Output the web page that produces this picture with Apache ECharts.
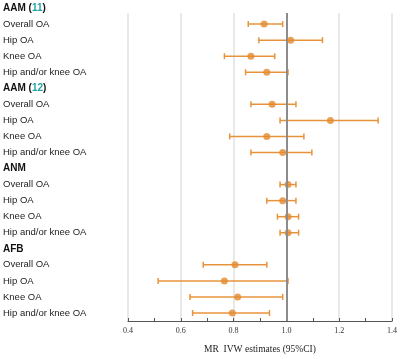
<!DOCTYPE html>
<html>
<head>
<meta charset="utf-8">
<script src="https://cdn.jsdelivr.net/npm/echarts@6/dist/echarts.min.js"></script>
<style>
  html, body { margin: 0; padding: 0; background: #fff; }
  #chart { width: 400px; height: 359px; }
</style>
</head>
<body>
<div id="chart"></div>
<script>
// rows top to bottom, headers have no estimate
var rowLabels = [
  'AAM (11)', 'Overall OA', 'Hip OA', 'Knee OA', 'Hip and/or knee OA',
  'AAM (12)', 'Overall OA', 'Hip OA', 'Knee OA', 'Hip and/or knee OA',
  'ANM', 'Overall OA', 'Hip OA', 'Knee OA', 'Hip and/or knee OA',
  'AFB', 'Overall OA', 'Hip OA', 'Knee OA', 'Hip and/or knee OA'
];
var estimates = [
  null, 0.91, 1.01, 0.86, 0.92,
  null, 0.94, 1.16, 0.92, 0.98,
  null, 1.00, 0.98, 1.00, 1.00,
  null, 0.80, 0.76, 0.81, 0.79
];
var lower = [
  null, 0.85, 0.89, 0.76, 0.84,
  null, 0.86, 0.97, 0.78, 0.86,
  null, 0.97, 0.92, 0.96, 0.97,
  null, 0.68, 0.51, 0.63, 0.64
];
var upper = [
  null, 0.98, 1.13, 0.95, 1.00,
  null, 1.03, 1.34, 1.06, 1.09,
  null, 1.03, 1.03, 1.04, 1.04,
  null, 0.92, 1.00, 0.98, 0.93
];
var xTicks = [0.4, 0.6, 0.8, 1.0, 1.2, 1.4];
var refValue = 1.0;

var orange = '#E8933C';

var pointData = [];
var barData = [];
for (var i = 0; i < rowLabels.length; i++) {
  if (estimates[i] === null) continue;
  pointData.push([estimates[i], i]);
  barData.push([lower[i], upper[i], i]);
}

var chart = echarts.init(document.getElementById('chart'), null, {renderer: 'canvas'});

chart.setOption({
  animation: false,
  backgroundColor: '#fff',
  grid: [
    {left: 128, right: 6, top: 13, bottom: 38},   // gridlines + axis
    {left: 128, right: 6, top: -3, bottom: 38}    // rows
  ],
  xAxis: [
    {
      gridIndex: 0,
      type: 'value',
      min: xTicks[0],
      max: xTicks[xTicks.length - 1],
      interval: 0.2,
      axisLine: {show: true, lineStyle: {color: '#555', width: 1.2}},
      axisTick: {show: true, inside: true, length: 3, lineStyle: {color: '#555'}},
      minorTick: {show: true, splitNumber: 2, length: 3, lineStyle: {color: '#555'}},
      splitLine: {show: true, lineStyle: {color: '#e2e2e2', width: 1.5}},
      axisLabel: {
        margin: 6,
        color: '#333',
        fontFamily: 'Liberation Serif',
        fontSize: 8,
        formatter: function (v) { return v.toFixed(1); }
      },
      name: 'MR  IVW estimates (95%CI)',
      nameLocation: 'middle',
      nameGap: 23,
      nameTextStyle: {fontFamily: 'Liberation Serif', fontSize: 9.5, color: '#222'}
    },
    {
      gridIndex: 1,
      type: 'value',
      min: xTicks[0],
      max: xTicks[xTicks.length - 1],
      show: false
    }
  ],
  yAxis: [
    {gridIndex: 0, type: 'value', min: 0, max: 1, show: false},
    {
      gridIndex: 1,
      type: 'category',
      inverse: true,
      data: rowLabels,
      axisLine: {show: false},
      axisTick: {show: false},
      splitLine: {show: false},
      axisLabel: {
        align: 'left',
        margin: 126,
        fontFamily: 'Liberation Sans',
        fontSize: 9.5,
        color: '#222',
        formatter: function (val, idx) {
          if (estimates[idx] !== null) return val;
          var m = val.match(/^(.*\()(\d+)(\).*)$/);
          if (m) return '{b|' + m[1] + '}{n|' + m[2] + '}{b|' + m[3] + '}';
          return '{b|' + val + '}';
        },
        rich: {
          b: {fontFamily: 'Liberation Sans', fontSize: 10, fontWeight: 'bold', color: '#111'},
          n: {fontFamily: 'Liberation Sans', fontSize: 10, fontWeight: 'bold', color: '#22A3A8'}
        }
      }
    }
  ],
  series: [
    {
      // reference line at 1.0
      type: 'scatter',
      xAxisIndex: 0,
      yAxisIndex: 0,
      data: [],
      z: 1,
      markLine: {
        silent: true,
        symbol: 'none',
        label: {show: false},
        lineStyle: {color: '#8c8c8c', width: 2, type: 'solid'},
        data: [{xAxis: refValue}]
      }
    },
    {
      type: 'custom',
      xAxisIndex: 1,
      yAxisIndex: 1,
      z: 3,
      encode: {x: [0, 1], y: 2},
      data: barData,
      renderItem: function (params, api) {
        var row = api.value(2);
        var a = api.coord([api.value(0), row]);
        var b = api.coord([api.value(1), row]);
        var h = 3;
        var style = {stroke: orange, lineWidth: 1.5};
        return {
          type: 'group',
          children: [
            {type: 'line', shape: {x1: a[0], y1: a[1], x2: b[0], y2: b[1]}, style: style},
            {type: 'line', shape: {x1: a[0], y1: a[1] - h, x2: a[0], y2: a[1] + h}, style: style},
            {type: 'line', shape: {x1: b[0], y1: b[1] - h, x2: b[0], y2: b[1] + h}, style: style}
          ]
        };
      }
    },
    {
      type: 'scatter',
      xAxisIndex: 1,
      yAxisIndex: 1,
      z: 4,
      symbol: 'circle',
      symbolSize: 7,
      itemStyle: {color: '#E38A2E'},
      data: pointData
    }
  ]
});
</script>
</body>
</html>
